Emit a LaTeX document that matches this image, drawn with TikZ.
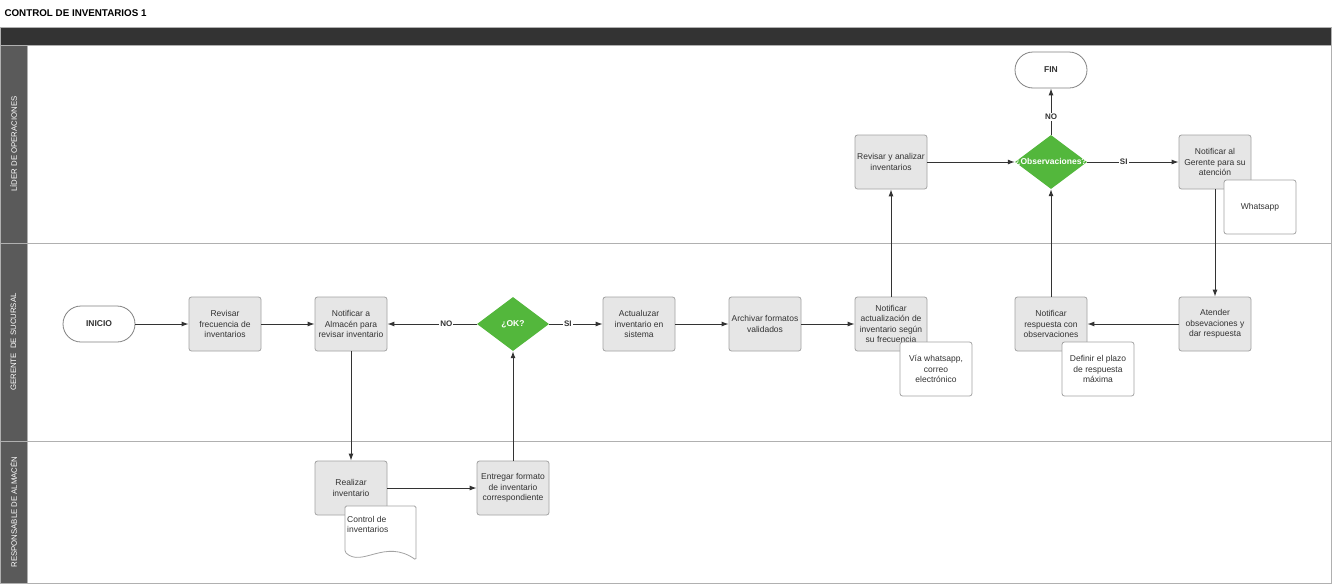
\documentclass[tikz,border=0pt]{standalone}
\usepackage{fontspec}
\setmainfont{Liberation Sans}
\usetikzlibrary{arrows.meta,shapes.geometric}
\definecolor{txt}{HTML}{333333}
\definecolor{boxfill}{HTML}{E6E6E6}
\definecolor{boxline}{HTML}{A3A3A3}
\definecolor{okgreen}{HTML}{53B73C}
\definecolor{lanecol}{HTML}{5A5A5A}
\definecolor{headcol}{HTML}{333333}
\definecolor{laneline}{HTML}{B0B0B0}
\begin{document}
\begin{tikzpicture}[x=1pt,y=-1pt,
 every node/.style={text=txt},
 procbox/.style={draw=boxline, fill=boxfill, rounded corners=2.5pt, minimum width=72pt, minimum height=54pt, inner sep=1pt, align=center, font=\fontsize{8.5}{10.5}\selectfont, line width=0.8pt},
 notebox/.style={procbox, fill=white},
 term/.style={draw=boxline!80!black, fill=white, rounded corners=18pt, minimum width=72pt, minimum height=36pt, line width=0.8pt, font=\bfseries\fontsize{8.5}{10}\selectfont},
 decision/.style={diamond, fill=okgreen, minimum width=72pt, minimum height=54pt, inner sep=0pt, aspect=1.333},
 dectext/.style={text=white, font=\bfseries\fontsize{8.5}{10}\selectfont, inner sep=0pt},
 flow/.style={draw=txt, line width=1pt, -{Latex[length=7pt,width=5pt]}},
 cond/.style={fill=white, font=\bfseries\fontsize{8}{9}\selectfont, inner sep=1pt},
 lanelabel/.style={rotate=90, text=white, font=\fontsize{7.8}{9}\selectfont}
]
\useasboundingbox (0,0) rectangle (1332,584);
\fill[white] (0,0) rectangle (1332,584);
% title and header
\node[anchor=west, font=\bfseries\fontsize{9.8}{11}\selectfont, text=black] (title) at (1,13) {CONTROL DE INVENTARIOS 1};
\draw[fill=headcol, draw=laneline] (0.5,27) rectangle (1331.5,45);
% lanes
\draw[fill=lanecol, draw=laneline] (0.5,45) rectangle (27,243);
\draw[fill=lanecol, draw=laneline] (0.5,243) rectangle (27,441);
\draw[fill=lanecol, draw=laneline] (0.5,441) rectangle (27,583.5);
\draw[laneline] (27,45) rectangle (1331.5,243);
\draw[laneline] (27,243) rectangle (1331.5,441);
\draw[laneline] (27,441) rectangle (1331.5,583.5);
\node[lanelabel] (lane1) at (13.5,144) {LÍDER DE OPERACIONES};
\node[lanelabel] (lane2) at (13.5,342) {GERENTE\ \ DE SUCURSAL};
\node[lanelabel] (lane3) at (13.5,512) {RESPONSABLE DE ALMACÉN};
% nodes lane 2
\node[term] (inicio) at (99,324) {INICIO};
\node[procbox] (revfrec) at (225,324) {Revisar\\frecuencia de\\inventarios};
\node[procbox] (almacen) at (351,324) {Notificar a\\Almacén para\\revisar inventario};
\node[decision] (ok) at (513,324) {};
\node[dectext] (oktext) at (ok) {¿OK?};
\node[procbox] (actual) at (639,324) {Actualuzar\\inventario en\\sistema};
\node[procbox] (archivar) at (765,324) {Archivar formatos\\validados};
\node[procbox] (notact) at (891,324) {Notificar\\actualización de\\inventario según\\su frecuencia};
\node[notebox] (via) at (936,369) {Vía whatsapp,\\correo\\electrónico};
\node[procbox] (notresp) at (1051,324) {Notificar\\respuesta con\\observaciones};
\node[notebox] (plazo) at (1098,369) {Definir el plazo\\de respuesta\\máxima};
\node[procbox] (atender) at (1215,324) {Atender\\obsevaciones y\\dar respuesta};
% lane 1
\node[procbox] (revanal) at (891,162) {Revisar y analizar\\inventarios};
\node[decision] (obs) at (1051,162) {};
\node[dectext] (obstext) at (obs) {¿Observaciones?};
\node[term] (fin) at (1051,70) {FIN};
\node[procbox] (notger) at (1215,162) {Notificar al\\Gerente para su\\atención};
\node[notebox] (whats) at (1260,207) {Whatsapp};
% lane 3
\node[procbox] (realizar) at (351,488) {Realizar\\inventario};
\node[procbox] (entregar) at (513,488) {Entregar formato\\de inventario\\correspondiente};
\draw[draw=boxline, fill=white, line width=0.8pt, rounded corners=1.5pt] (345,552) -- (345,506) -- (416,506) -- (416,560) .. controls (385,538) and (362,568) .. (345,552) -- cycle;
\node[anchor=north west, align=left, inner sep=0pt, font=\fontsize{8.5}{10.5}\selectfont] (doctext) at (347,516) {Control de\\inventarios};
% connectors
\draw[flow] (inicio) -- (revfrec);
\draw[flow] (revfrec) -- (almacen);
\draw[flow] (ok) -- node[cond, pos=0.34] {NO} (almacen);
\draw[flow] (ok) -- node[cond, pos=0.35] {SI} (actual);
\draw[flow] (almacen) -- (realizar);
\draw[flow] (realizar) -- (entregar);
\draw[flow] (entregar) -- (ok);
\draw[flow] (actual) -- (archivar);
\draw[flow] (archivar) -- (notact);
\draw[flow] (notact) -- (revanal);
\draw[flow] (revanal) -- (obs);
\draw[flow] (obs) -- node[cond, pos=0.38] {NO} (fin);
\draw[flow] (obs) -- node[cond, pos=0.4] {SI} (notger);
\draw[flow] (notger) -- (atender);
\draw[flow] (atender) -- (notresp);
\draw[flow] (notresp) -- (obs);
\end{tikzpicture}
\end{document}
